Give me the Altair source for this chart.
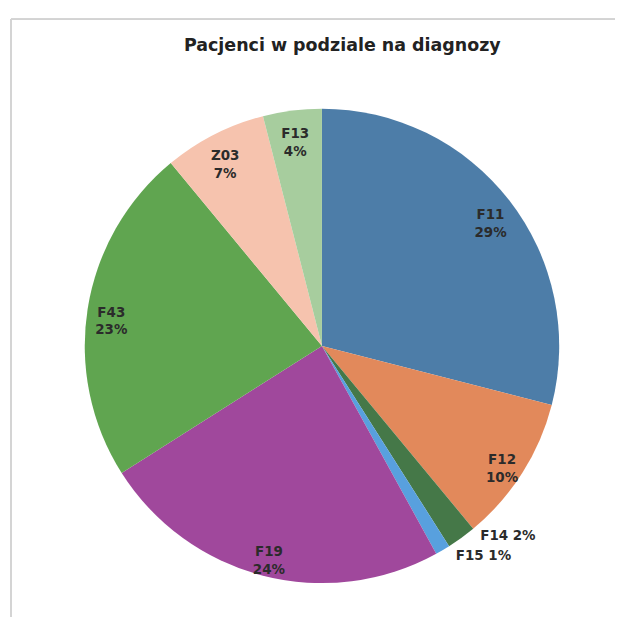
import altair as alt
import pandas as pd

categories = ["F11", "F12", "F14", "F15", "F19", "F43", "Z03", "F13"]
values = [29, 10, 2, 1, 24, 23, 7, 4]
colors = ["#4d7da8", "#e2895b", "#457848", "#58a0de", "#a0489c", "#60a550", "#f6c3ae", "#a7cd9e"]

df = pd.DataFrame({"cat": categories, "val": values, "ord": list(range(len(categories)))})

W, H = 606, 600
CX, CY, R = 312, 328, 238
# nudges (dx, dy) for the labels drawn outside the small slices
outer_nudge = {"F14": (13, -10), "F15": (8, -3)}

base = alt.Chart(df).encode(
    theta=alt.Theta("val:Q", stack=True),
    order=alt.Order("ord:Q", sort="ascending"),
    x=alt.value(CX),
    y=alt.value(CY),
)

pie = base.mark_arc(outerRadius=R, strokeWidth=0).encode(
    color=alt.Color("cat:N", scale=alt.Scale(domain=categories, range=colors), legend=None)
)

inner = base.transform_calculate(
    lab="datum.val >= 3 ? datum.cat + '\\n' + datum.val + '%' : ''"
).mark_text(
    radius=214, font="DejaVu Sans", fontWeight="bold", fontSize=13.5, color="#2b2b2b",
    lineBreak="\n", lineHeight=18, baseline="middle", align="center"
).encode(text="lab:N")

outer_layers = []
for cat, (ddx, ddy) in outer_nudge.items():
    outer_layers.append(
        base.transform_calculate(
            lab=f"datum.cat == '{cat}' ? datum.cat + ' ' + datum.val + '%' : ''"
        ).mark_text(
            radius=248, font="DejaVu Sans", fontWeight="bold", fontSize=13.5, color="#2b2b2b",
            align="left", baseline="middle", dx=ddx, dy=ddy
        ).encode(text="lab:N")
    )

frame_top = alt.Chart(df).mark_rule(color="#d4d4d4", strokeWidth=1).encode(
    x=alt.value(0), x2=alt.value(W), y=alt.value(0)
)
frame_left = alt.Chart(df).mark_rule(color="#d4d4d4", strokeWidth=1).encode(
    x=alt.value(0), y=alt.value(0), y2=alt.value(H)
)

chart = alt.layer(frame_top, frame_left, pie, inner, *outer_layers).properties(
    width=W,
    height=H,
    background="white",
    padding={"left": 2, "top": 9, "right": 0, "bottom": 0},
    title=alt.TitleParams(
        "Pacjenci w podziale na diagnozy",
        font="DejaVu Sans", fontSize=17.5, fontWeight="bold", color="#222222",
        anchor="start", dx=174, offset=-36
    ),
).configure_view(stroke="transparent", strokeWidth=0)

chart.save("out.html", embed_options={"renderer": "svg", "actions": False})
